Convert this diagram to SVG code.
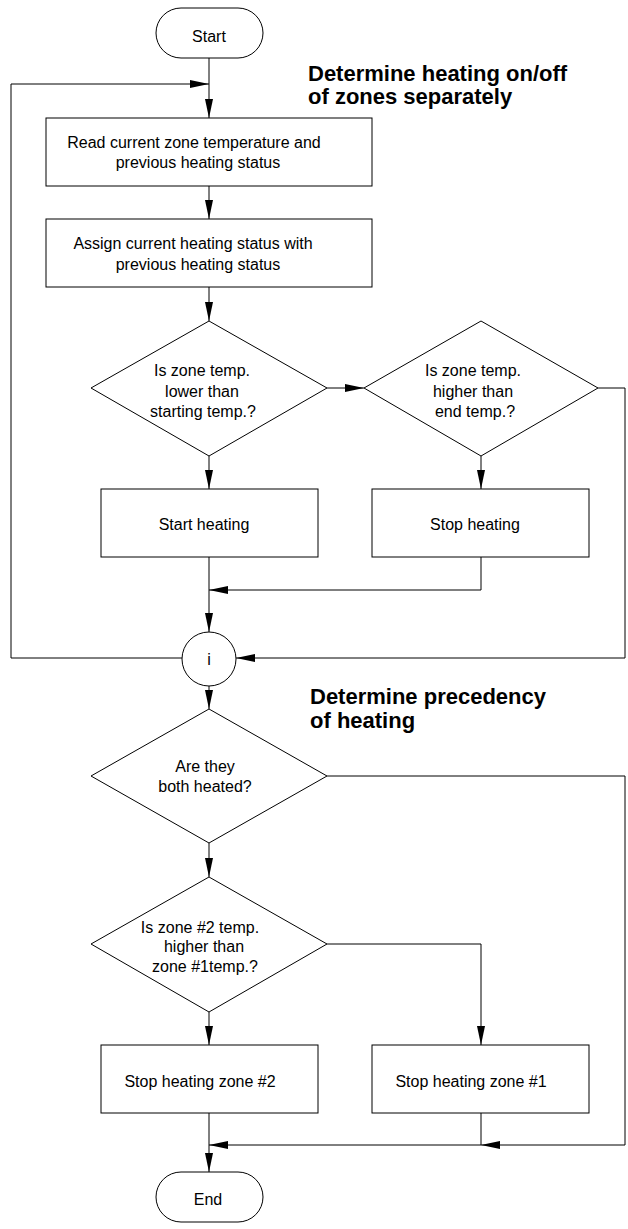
<svg xmlns="http://www.w3.org/2000/svg" width="628" height="1229" viewBox="0 0 628 1229">
<style>
.shape{fill:#fff;stroke:#000;stroke-width:1}
.conn{fill:none;stroke:#000;stroke-width:1}
.t{font-family:"Liberation Sans",Arial,sans-serif;font-size:16px;fill:#000;text-anchor:middle}
.title{font-family:"Liberation Sans",Arial,sans-serif;font-size:22px;font-weight:bold;fill:#000}
</style>
<defs>
<marker id="arr" markerUnits="userSpaceOnUse" markerWidth="20" markerHeight="8" refX="19" refY="4" orient="auto">
<path d="M0,0 L19,4 L0,8 z" fill="#000"/>
</marker>
</defs>
<rect width="628" height="1229" fill="#fff"/>
<g id="connectors">
<path class="conn" d="M209,58 V118" marker-end="url(#arr)"/>
<path class="conn" d="M182,658 H11 V84 H209" marker-end="url(#arr)"/>
<path class="conn" d="M209,186 V219" marker-end="url(#arr)"/>
<path class="conn" d="M209,287 V321" marker-end="url(#arr)"/>
<path class="conn" d="M327,388 H364" marker-end="url(#arr)"/>
<path class="conn" d="M209,456 V489" marker-end="url(#arr)"/>
<path class="conn" d="M481,456 V489" marker-end="url(#arr)"/>
<path class="conn" d="M598,388 H625 V658 H236" marker-end="url(#arr)"/>
<path class="conn" d="M481,557 V590 H209" marker-end="url(#arr)"/>
<path class="conn" d="M209,557 V632" marker-end="url(#arr)"/>
<path class="conn" d="M209,686 V709" marker-end="url(#arr)"/>
<path class="conn" d="M327,776 H625 V1145 H481" marker-end="url(#arr)"/>
<path class="conn" d="M209,843 V877" marker-end="url(#arr)"/>
<path class="conn" d="M327,944 H481 V1045" marker-end="url(#arr)"/>
<path class="conn" d="M209,1012 V1045" marker-end="url(#arr)"/>
<path class="conn" d="M481,1113 V1145 H209" marker-end="url(#arr)"/>
<path class="conn" d="M209,1113 V1172" marker-end="url(#arr)"/>
</g>
<g id="start">
<rect class="shape" x="156" y="8" width="107" height="50" rx="25" ry="25"/>
<text class="t" x="209" y="42">Start</text>
</g>
<g id="title1">
<text class="title" x="308" y="81">Determine heating on/off</text>
<text class="title" x="308" y="104">of zones separately</text>
</g>
<g id="read">
<rect class="shape" x="46" y="118" width="326" height="68"/>
<text class="t" x="194" y="148">Read current zone temperature and</text>
<text class="t" x="198" y="168">previous heating status</text>
</g>
<g id="assign">
<rect class="shape" x="46" y="219" width="326" height="68"/>
<text class="t" x="193" y="249">Assign current heating status with</text>
<text class="t" x="198" y="270">previous heating status</text>
</g>
<g id="d1">
<polygon class="shape" points="209,321 327,388 209,456 91,388"/>
<text class="t" x="202" y="376">Is zone temp.</text>
<text class="t" x="202" y="397">lower than</text>
<text class="t" x="203" y="417">starting temp.?</text>
</g>
<g id="d2">
<polygon class="shape" points="481,321 598,388 481,456 364,388"/>
<text class="t" x="473" y="376">Is zone temp.</text>
<text class="t" x="473" y="397">higher than</text>
<text class="t" x="475" y="417">end temp.?</text>
</g>
<g id="startheat">
<rect class="shape" x="101" y="489" width="217" height="68"/>
<text class="t" x="204" y="530">Start heating</text>
</g>
<g id="stopheat">
<rect class="shape" x="372" y="489" width="217" height="68"/>
<text class="t" x="475" y="530">Stop heating</text>
</g>
<g id="conn_i">
<circle class="shape" cx="209" cy="659" r="27"/>
<text class="t" x="209" y="665">i</text>
</g>
<g id="title2">
<text class="title" x="310" y="704">Determine precedency</text>
<text class="title" x="310" y="728">of heating</text>
</g>
<g id="d3">
<polygon class="shape" points="209,709 327,776 209,843 91,776"/>
<text class="t" x="205" y="772">Are they</text>
<text class="t" x="205" y="792">both heated?</text>
</g>
<g id="d4">
<polygon class="shape" points="209,877 327,944 209,1012 91,944"/>
<text class="t" x="200" y="933">Is zone #2 temp.</text>
<text class="t" x="204" y="952">higher than</text>
<text class="t" x="205" y="972">zone #1temp.?</text>
</g>
<g id="stop2">
<rect class="shape" x="101" y="1045" width="217" height="68"/>
<text class="t" x="200" y="1087">Stop heating zone #2</text>
</g>
<g id="stop1">
<rect class="shape" x="372" y="1045" width="217" height="68"/>
<text class="t" x="471" y="1087">Stop heating zone #1</text>
</g>
<g id="end">
<rect class="shape" x="156" y="1172" width="107" height="50" rx="25" ry="25"/>
<text class="t" x="208" y="1205">End</text>
</g>
</svg>
